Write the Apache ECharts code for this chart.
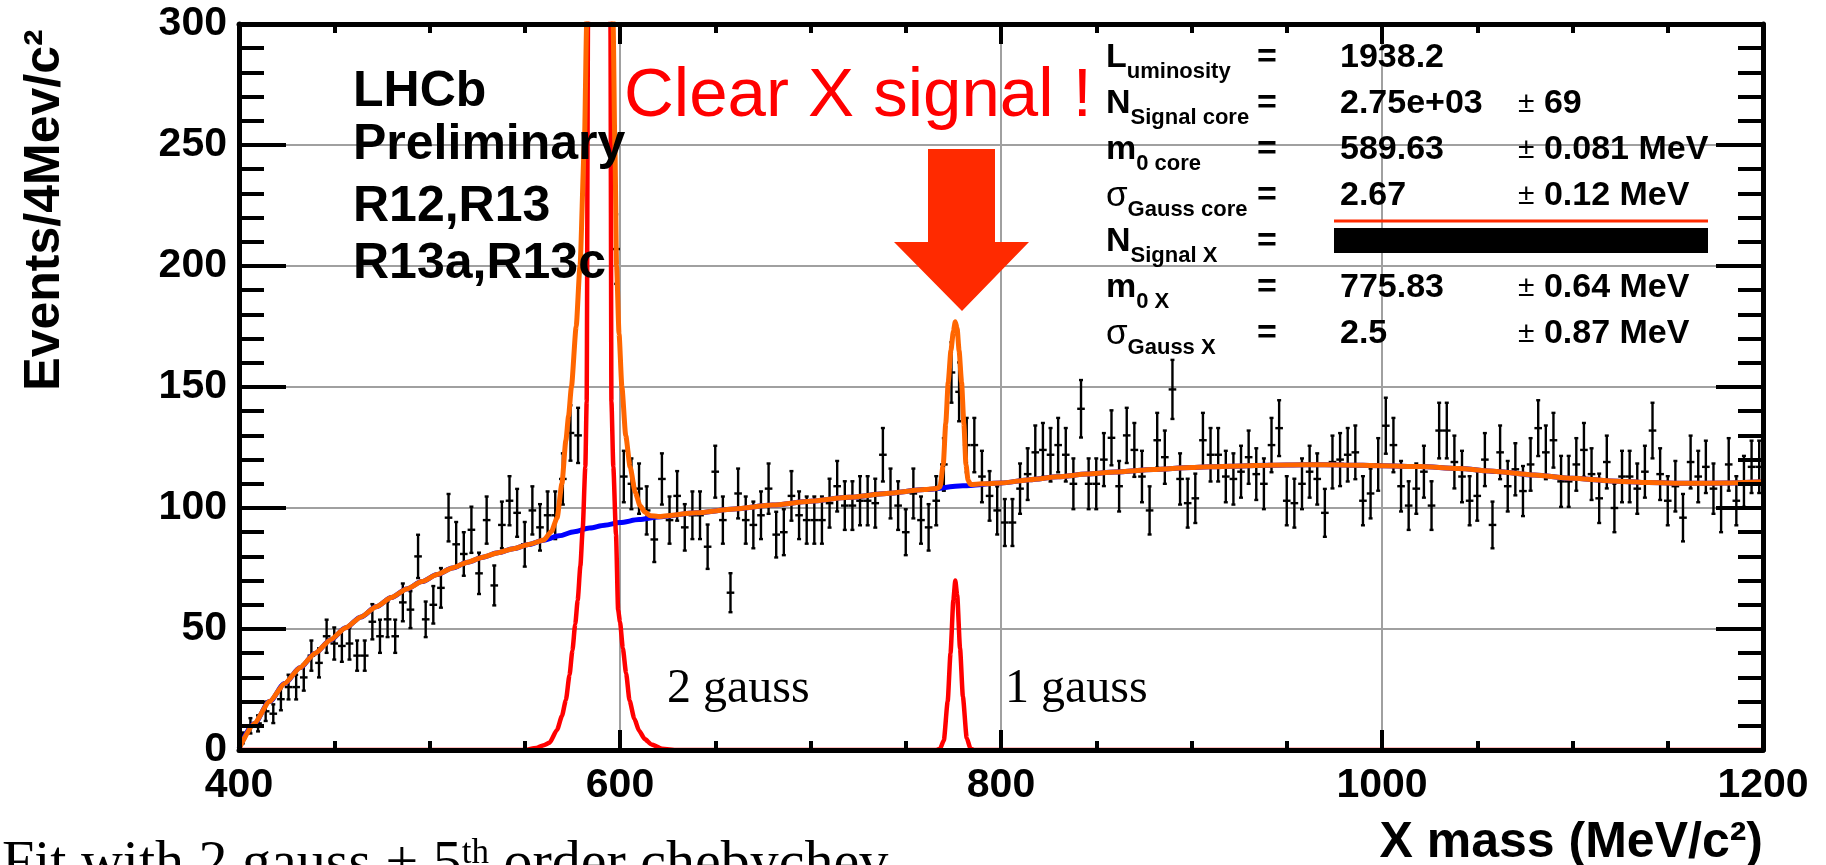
<!DOCTYPE html>
<html>
<head>
<meta charset="utf-8">
<title>X mass fit</title>
<script src="https://cdn.jsdelivr.net/npm/echarts@6/dist/echarts.min.js"></script>
<style>
  html, body { margin: 0; padding: 0; background: #fff; }
  #chart { width: 1826px; height: 865px; }
</style>
</head>
<body>
<div id="chart"></div>
<script>
// histogram, 4 MeV bins between 400 and 1200 MeV
const binLow = 400
const binWidth = 4
const xRange = [400, 1200]
const yRange = [0, 300]

// events per bin (bins 582..594 run far off the top of the plot)
const counts = [
  5, 10, 11, 16, 15, 21, 26, 26, 30, 39, 36, 47, 44, 43, 44, 39, 39, 53, 47, 54,
  47, 61, 58, 80, 54, 60, 67, 96, 85, 81, 91, 73, 95, 68, 93, 103, 98, 85, 99, 92,
  97, 97, 112, 131, 130, 340, 1250, 1650, 620, 207,
  113, 110, 108, 99, 87, 112, 95, 105, 92, 97, 97, 84, 115, 95, 65, 106, 95, 93, 97, 108,
  89, 90, 105, 97, 95, 95, 95, 102, 109, 101, 101, 103, 103, 102, 122, 106, 101, 90, 106, 95,
  92, 103, 118, 156, 148, 126, 126, 113, 105, 99,
  94, 94, 108, 114, 123, 124, 122, 126, 122, 110, 141, 110, 110, 120, 129, 109, 130, 124, 113, 99,
  128, 121, 149, 112, 102, 104, 128, 122, 122, 113, 112, 115, 121, 114, 110, 126, 133, 103, 102, 110,
  115, 112, 98, 119, 120, 122, 123, 103, 106, 118,
  134, 126, 109, 101, 108, 115, 101, 132, 132, 119, 113, 103, 105, 120, 93, 123, 109, 116, 107, 118,
  133, 123, 128, 111, 111, 118, 124, 114, 104, 119, 100, 113, 113, 108, 115, 132, 114, 103, 109, 96,
  119, 113, 117, 108, 100, 118, 103, 111, 117, 117
]

// chebychev background (blue)
const bgMass = [400, 408, 416, 424, 432, 440, 448, 456, 464, 472, 480, 488, 496, 504, 512, 520, 528, 536, 544, 552,
  560, 568, 576, 584, 592, 600, 610, 620, 640, 660, 680, 700, 720, 740, 760, 780, 800, 815, 830, 845,
  860, 880, 900, 920, 940, 960, 980, 1000, 1020, 1040, 1060, 1080, 1100, 1120, 1140, 1160, 1180, 1200]
const bgValue = [0.5, 11, 20, 27.5, 34, 40, 45.5, 50.5, 55, 59.2, 63, 66.5, 69.6, 72.5, 75.2, 77.6, 79.7, 81.5, 83.2, 84.9,
  86.7, 88.5, 90.2, 91.7, 92.9, 94, 95.2, 96.3, 98, 99.6, 101.2, 102.8, 104.4, 106, 107.6, 109.2, 110.3, 111.7, 112.9, 114,
  114.9, 115.9, 116.7, 117.3, 117.7, 117.9, 117.8, 117.5, 117.1, 116.3, 115.1, 113.6, 112.3, 111.2, 110.5, 110.2, 110.3, 110.8]

// total fit (orange)
const totalMass = [400, 408, 416, 424, 432, 440, 448, 456, 464, 472, 480, 488, 496, 504, 512, 520, 528, 536, 544, 552,
  560, 564, 567, 569.5, 571.6, 573, 574.5, 577, 579, 581.3, 582.5, 584, 589, 594.5, 596.4, 597.3, 598.2, 599.5, 601, 603,
  605.3, 608, 610.5, 613, 616, 620, 640, 660, 680, 700, 720, 740, 760, 766, 768, 769.7, 771, 772.3, 773.7, 775,
  776, 777, 778, 779.3, 780.5, 781.6, 782.7, 784, 790, 800, 815, 830, 845, 860, 880, 900, 920, 940, 960, 980,
  1000, 1020, 1040, 1060, 1080, 1100, 1120, 1140, 1160, 1180, 1200]
const totalValue = [0.5, 11, 20, 27.5, 34, 40, 45.5, 50.5, 55, 59.2, 63, 66.5, 69.6, 72.5, 75.2, 77.6, 79.7, 81.5, 83.2, 84.9,
  86.8, 90.3, 96, 110, 128, 138, 150, 175, 200, 250, 300, 450, 1800, 450, 300, 250, 200, 172, 150, 130,
  117, 106.5, 101, 98.3, 96.8, 96.5, 98, 99.6, 101.2, 102.8, 104.4, 106, 107.6, 108.1, 108.7, 118, 135, 152, 165, 173,
  177, 174, 165, 152, 135, 118, 111.5, 109.7, 110, 110.3, 111.7, 112.9, 114, 114.9, 115.9, 116.7, 117.3, 117.7, 117.9, 117.8,
  117.5, 117.1, 116.3, 115.1, 113.6, 112.3, 111.2, 110.5, 110.2, 110.3, 110.8]

// gaussian components (red)
const signalMass = [400, 550, 556, 560, 563, 567, 569.5, 571.6, 573.5, 575, 576.5, 577.8, 579.2, 580.4, 581.8, 582.5, 583.2, 584.5, 586.5, 589,
  591.5, 593.5, 595, 595.5, 596.5, 597.9, 599, 600, 601.5, 603.2, 605, 607.5, 610, 613, 616.5, 622, 630, 760, 766, 768,
  770, 772, 773.5, 775, 776, 777, 778.5, 780, 782, 784, 786, 792, 1200]
const signalValue = [0, 0, 0.8, 2, 3, 8.4, 14, 20.7, 31, 41, 52, 62, 76, 91, 117, 144, 300, 700, 1300, 1700,
  1300, 700, 300, 144, 117, 89, 58, 53, 42, 31.7, 20.5, 13, 8, 4.5, 2.3, 0.5, 0, 0, 0, 0.5,
  4, 20, 40, 62, 70, 64, 42, 22, 5, 0.5, 0, 0, 0]

// annotations
const infoLines = ['LHCb', 'Preliminary', 'R12,R13', 'R13a,R13c']
const statNames = [['m', 'L', 'uminosity'], ['m', 'N', 'Signal core'], ['m', 'm', '0 core'], ['g', 'σ', 'Gauss core'],
  ['m', 'N', 'Signal X'], ['m', 'm', '0 X'], ['g', 'σ', 'Gauss X']]
const statValues = ['1938.2', '2.75e+03', '589.63', '2.67', '', '775.83', '2.5']
const statErrors = ['', '69', '0.081 MeV', '0.12 MeV', '', '0.64 MeV', '0.87 MeV']

const sans = 'Liberation Sans, Arial, Helvetica, sans-serif'
const serif = 'Liberation Serif, Times New Roman, serif'
const statRowY = [58, 104, 150, 196, 242, 288, 334]

const chart = echarts.init(document.getElementById('chart'))

const pairs = (xs, ys) => xs.map((x, i) => [x, ys[i]])
const binData = counts.map((n, i) => [binLow + binWidth * (i + 0.5), n])

const seg = (x1, y1, x2, y2) => ({
  type: 'line',
  shape: { x1, y1, x2, y2 },
  style: { stroke: '#000', lineWidth: 2.4 }
})

// data point with poisson error bar and bin width bar
function errorBar(params, api) {
  const x = api.value(0)
  const n = api.value(1)
  const err = Math.sqrt(n)
  const l = api.coord([x - binWidth / 2, n])
  const r = api.coord([x + binWidth / 2, n])
  const t = api.coord([x, n + err])
  const b = api.coord([x, n - err])
  return {
    type: 'group',
    children: [
      seg(l[0], l[1], r[0], r[1]),
      seg(t[0], t[1], b[0], b[1]),
      seg(t[0] - 2, t[1], t[0] + 2, t[1]),
      seg(b[0] - 2, b[1], b[0] + 2, b[1])
    ]
  }
}

const frameLine = { show: true, onZero: false, lineStyle: { color: '#000', width: 5 } }
const tickStyle = { color: '#000', width: 4 }
const gridGray = { show: true, lineStyle: { color: '#a0a0a0', width: 2 } }
const labelStyle = { color: '#000', fontSize: 41, fontWeight: 'bold', fontFamily: sans }
const off = { show: false }

const xBase = { type: 'value', min: xRange[0], max: xRange[1], interval: 200 }
const yBase = { type: 'value', min: yRange[0], max: yRange[1], interval: 50 }
const xTicks = {
  axisTick: { show: true, inside: true, length: 20, lineStyle: tickStyle },
  minorTick: { show: true, splitNumber: 4, length: 9, lineStyle: tickStyle }
}
const yTicks = {
  axisTick: { show: true, inside: true, length: 47, lineStyle: tickStyle },
  minorTick: { show: true, splitNumber: 5, length: 25, lineStyle: tickStyle }
}

const graphics = []

graphics.push({
  type: 'text', x: 45, y: 210, rotation: Math.PI / 2, z: 20,
  style: { text: 'Events/4Mev/c²', fill: '#000', fontSize: 50, fontWeight: 'bold', fontFamily: sans,
    align: 'center', verticalAlign: 'middle', textAlign: 'center', textVerticalAlign: 'middle' }
})
graphics.push({
  type: 'text', x: 1763, y: 818, z: 20,
  style: { text: 'X mass (MeV/c²)', fill: '#000', fontSize: 50, fontWeight: 'bold', fontFamily: sans,
    align: 'right', verticalAlign: 'top', textAlign: 'right', textVerticalAlign: 'top' }
})

const infoY = [92, 145, 207, 264]
infoLines.forEach((t, i) => {
  graphics.push({
    type: 'text', x: 353, y: infoY[i], z: 20,
    style: { text: t, fill: '#000', fontSize: 50, fontWeight: 'bold', fontFamily: sans,
      align: 'left', verticalAlign: 'middle', textAlign: 'left', textVerticalAlign: 'middle' }
  })
})

graphics.push({
  type: 'text', x: 624, y: 97, z: 20,
  style: { text: 'Clear X signal !', fill: '#ff0000', fontSize: 69, fontFamily: sans,
    align: 'left', verticalAlign: 'middle', textAlign: 'left', textVerticalAlign: 'middle' }
})

// big arrow pointing at the X peak
graphics.push({
  type: 'polygon', z: 20,
  shape: { points: [[928, 149], [995, 149], [995, 242], [1029, 242], [962, 311], [894, 242], [928, 242]] },
  style: { fill: '#ff2a00' }
})

// fit parameters box
statNames.forEach((s, i) => {
  const y = statRowY[i]
  graphics.push({
    type: 'text', x: 1106, y, z: 20,
    style: {
      text: `{${s[0]}|${s[1]}}{s|${s[2]}}`,
      align: 'left', verticalAlign: 'middle', textAlign: 'left', textVerticalAlign: 'middle',
      rich: {
        m: { fontSize: 34, fontWeight: 'bold', fontFamily: sans, fill: '#000' },
        g: { fontSize: 35, fontWeight: 'normal', fontFamily: sans, fill: '#000' },
        s: { fontSize: 22, fontWeight: 'bold', fontFamily: sans, fill: '#000', padding: [28, 0, 0, 0] }
      }
    }
  })
  graphics.push({
    type: 'text', x: 1257, y, z: 20,
    style: { text: '=', fill: '#000', fontSize: 34, fontWeight: 'bold', fontFamily: sans,
      align: 'left', verticalAlign: 'middle', textAlign: 'left', textVerticalAlign: 'middle' }
  })
  if (statValues[i]) {
    graphics.push({
      type: 'text', x: 1340, y, z: 20,
      style: { text: statValues[i], fill: '#000', fontSize: 34, fontWeight: 'bold', fontFamily: sans,
        align: 'left', verticalAlign: 'middle', textAlign: 'left', textVerticalAlign: 'middle' }
    })
  }
  if (statErrors[i]) {
    graphics.push({
      type: 'text', x: 1518, y, z: 20,
      style: { text: '{pm|±} ' + statErrors[i], fill: '#000', fontSize: 34, fontWeight: 'bold', fontFamily: sans,
        align: 'left', verticalAlign: 'middle', textAlign: 'left', textVerticalAlign: 'middle',
        rich: { pm: { fontSize: 30, fontWeight: 'normal', fontFamily: sans, fill: '#000' } } }
    })
  }
})
graphics.push({
  type: 'line', z: 20,
  shape: { x1: 1334, y1: 221, x2: 1708, y2: 221 },
  style: { stroke: '#ff2a00', lineWidth: 3 }
})
graphics.push({
  type: 'rect', z: 20,
  shape: { x: 1334, y: 228, width: 374, height: 25 },
  style: { fill: '#000' }
})

graphics.push({
  type: 'text', x: 667, y: 689, z: 20,
  style: { text: '2 gauss', fill: '#000', fontSize: 48, fontFamily: serif,
    align: 'left', verticalAlign: 'middle', textAlign: 'left', textVerticalAlign: 'middle' }
})
graphics.push({
  type: 'text', x: 1005, y: 689, z: 20,
  style: { text: '1 gauss', fill: '#000', fontSize: 48, fontFamily: serif,
    align: 'left', verticalAlign: 'middle', textAlign: 'left', textVerticalAlign: 'middle' }
})
graphics.push({
  type: 'text', x: 2, y: 836, z: 20,
  style: {
    text: '{t|Fit with 2 gauss + 5}{sup|th}{t| order chebychev}',
    align: 'left', verticalAlign: 'top', textAlign: 'left', textVerticalAlign: 'top',
    rich: {
      t: { fontSize: 58, fontFamily: serif, fill: '#000' },
      sup: { fontSize: 35, fontFamily: serif, fill: '#000', verticalAlign: 'top' }
    }
  }
})

const option = {
  animation: false,
  backgroundColor: '#fff',
  grid: { left: 239, right: 63, top: 24, bottom: 115, containLabel: false },
  xAxis: [
    { ...xBase, position: 'bottom', z: 10, axisLine: frameLine, ...xTicks,
      axisLabel: { show: true, margin: 15, formatter: v => String(v), ...labelStyle }, splitLine: off },
    { ...xBase, position: 'top', z: 10, axisLine: frameLine, ...xTicks,
      axisLabel: off, splitLine: off },
    { ...xBase, position: 'bottom', z: 0, axisLine: off, axisTick: off, axisLabel: off, splitLine: gridGray }
  ],
  yAxis: [
    { ...yBase, position: 'left', z: 10, axisLine: frameLine, ...yTicks,
      axisLabel: { show: true, margin: 12, formatter: v => String(v), ...labelStyle }, splitLine: off },
    { ...yBase, position: 'right', z: 10, axisLine: frameLine, ...yTicks,
      axisLabel: off, splitLine: off },
    { ...yBase, position: 'left', z: 0, axisLine: off, axisTick: off, axisLabel: off, splitLine: gridGray }
  ],
  series: [
    {
      name: 'data', type: 'custom', xAxisIndex: 0, yAxisIndex: 0,
      renderItem: errorBar, data: binData, encode: { x: 0, y: 1 }, clip: true, z: 2, silent: true
    },
    {
      name: 'background', type: 'line', xAxisIndex: 0, yAxisIndex: 0,
      data: pairs(bgMass, bgValue), symbol: 'none', smooth: 0.3, smoothMonotone: 'x',
      lineStyle: { color: '#0000ff', width: 5 }, clip: true, z: 3, silent: true
    },
    {
      name: 'signal', type: 'line', xAxisIndex: 0, yAxisIndex: 0,
      data: pairs(signalMass, signalValue), symbol: 'none', smooth: 0.2, smoothMonotone: 'x',
      lineStyle: { color: '#ff0000', width: 4.5 }, clip: true, z: 4, silent: true
    },
    {
      name: 'total', type: 'line', xAxisIndex: 0, yAxisIndex: 0,
      data: pairs(totalMass, totalValue), symbol: 'none', smooth: 0.2, smoothMonotone: 'x',
      lineStyle: { color: '#ff6600', width: 5 }, clip: true, z: 5, silent: true
    }
  ],
  graphic: graphics
}

chart.setOption(option)
window.addEventListener('resize', () => chart.resize())
</script>
</body>
</html>
